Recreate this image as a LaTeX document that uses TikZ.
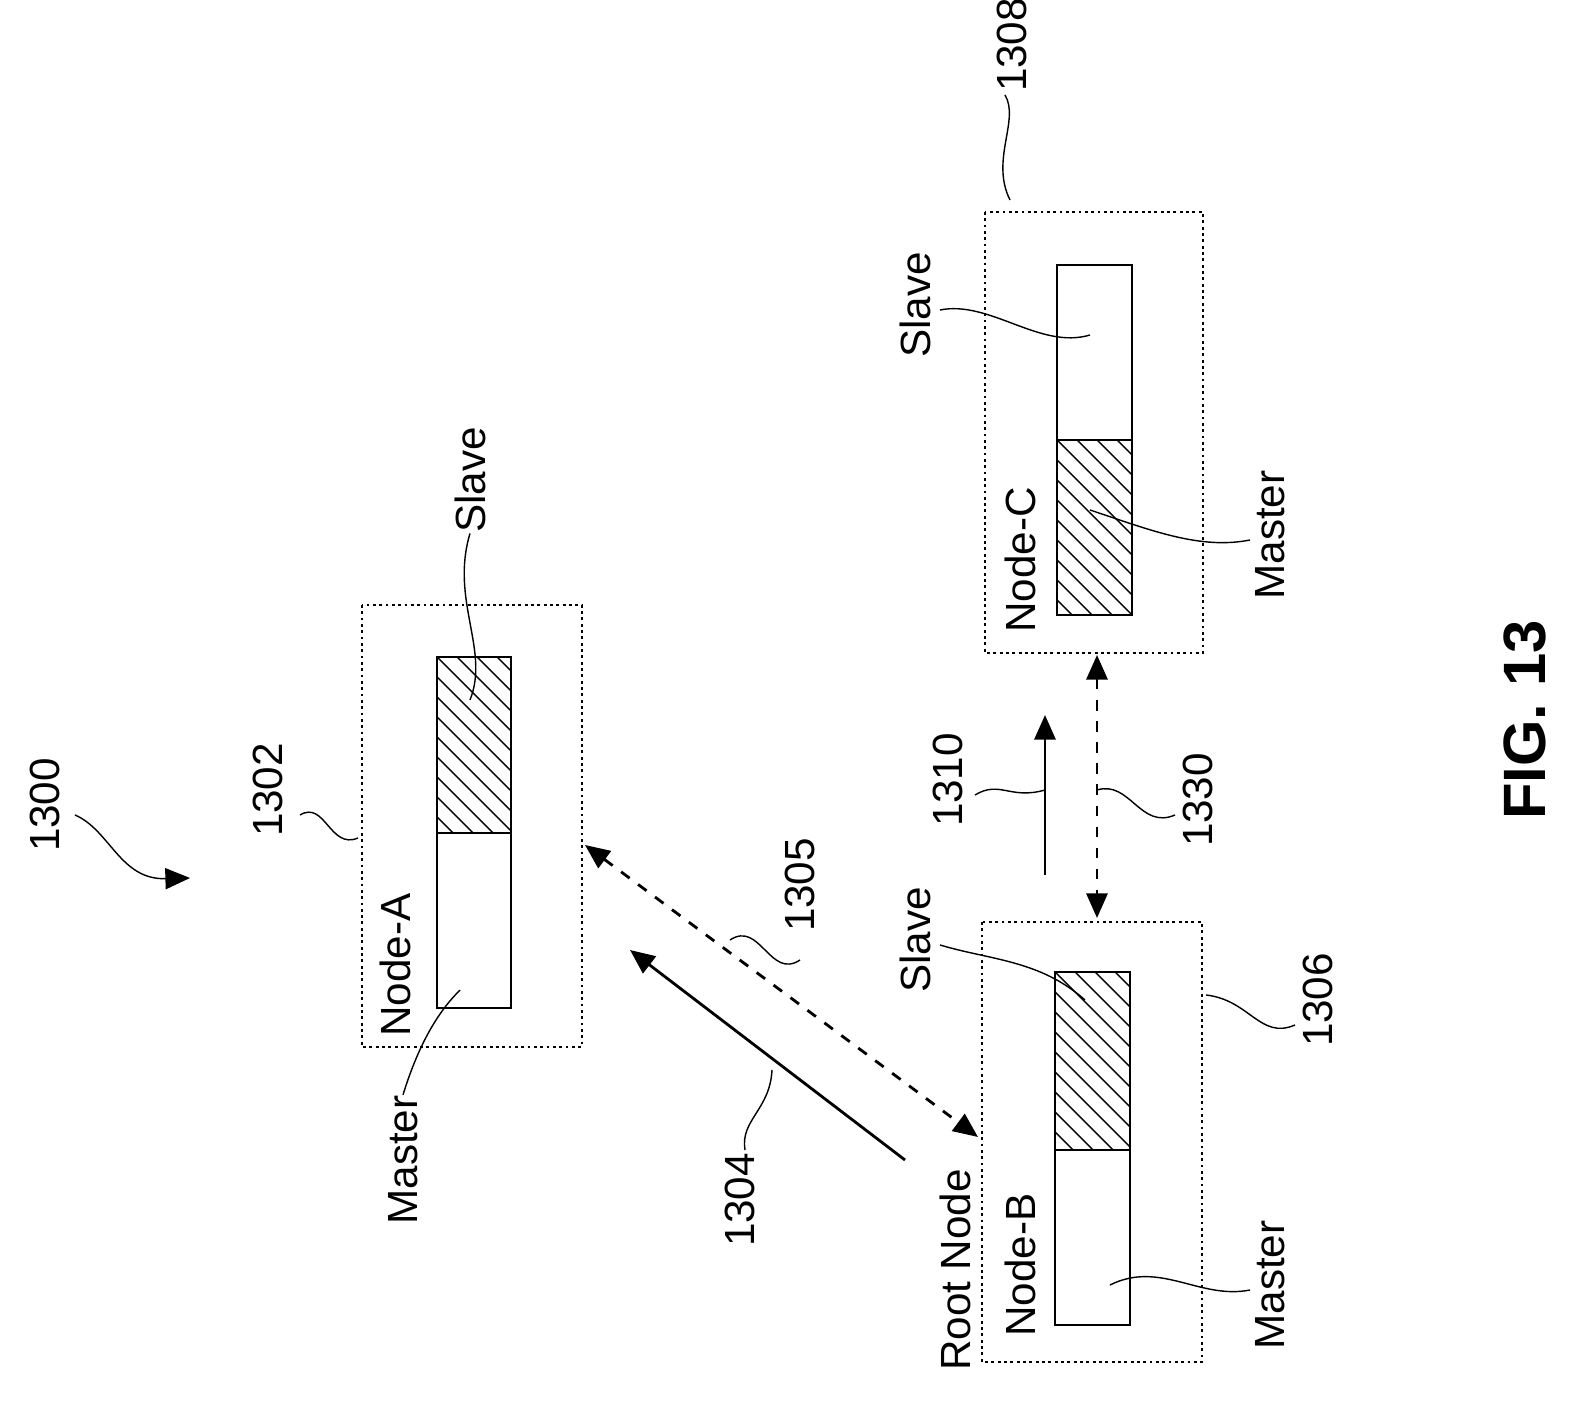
\documentclass[tikz,border=0pt]{standalone}
\usepackage{fontspec}
\setmainfont{Liberation Sans}
\usetikzlibrary{arrows.meta}
\begin{document}
\begin{tikzpicture}[x=0.01cm, y=-0.01cm,
  lbl/.style={rotate=90, font=\fontsize{12}{14}\selectfont, inner sep=0pt},
  frame/.style={densely dotted, thick},
  bar/.style={draw, thick},
  lead/.style={thin},
  tip/.style={-{Triangle[length=7pt,width=6pt]}},
  dtip/.style={{Triangle[length=7pt,width=6pt]}-{Triangle[length=7pt,width=6pt]}, dashed}]

% hatched halves
\newcommand{\hatch}[4]{%
  \begin{scope}
    \clip (#1,#2) rectangle (#3,#4);
    \foreach \k in {-400,-380,...,400}
      \draw[thin] (#1+\k,#2) -- (#1+\k+400,#2+400);
  \end{scope}}

% Node-A
\draw[frame] (362,605) rectangle (582,1047);
\hatch{437}{657}{511}{833}
\draw[bar] (437,657) rectangle (511,1008);
\draw[bar] (437,833) -- (511,833);
\node[lbl] (na) at (395,965) {Node-A};
\node[lbl] (sa) at (470,480) {Slave};
\node[lbl] (ma) at (403,1160) {Master};
\draw[lead] (470,700) .. controls (490,650) and (450,600) .. (sa.west);
\draw[lead] (460,990) .. controls (440,1010) and (420,1040) .. (ma.east);

\node[lbl] (n1302) at (268,790) {1302};
\draw[lead] (300,815) .. controls (325,800) and (330,850) .. (358,838);
\node[lbl] (n1300) at (45,805) {1300};
\draw[tip] (75,815) .. controls (110,830) and (120,880) .. (190,878);

% Node-B
\draw[frame] (982,922) rectangle (1202,1362);
\hatch{1055}{972}{1130}{1150}
\draw[bar] (1055,972) rectangle (1130,1325);
\draw[bar] (1055,1150) -- (1130,1150);
\node[lbl] (nb) at (1020,1265) {Node-B};
\node[lbl] (rb) at (955,1270) {Root Node};
\node[lbl] (sb) at (915,940) {Slave};
\node[lbl] (mb) at (1270,1285) {Master};
\node[lbl] (n1306) at (1318,1000) {1306};
\draw[lead] (1085,1000) .. controls (1040,960) and (990,960) .. (940,945);
\draw[lead] (1110,1285) .. controls (1160,1260) and (1200,1300) .. (1250,1290);
\draw[lead] (1206,995) .. controls (1250,1000) and (1260,1040) .. (1295,1025);

% Node-C
\draw[frame] (985,212) rectangle (1203,653);
\hatch{1057}{440}{1132}{615}
\draw[bar] (1057,265) rectangle (1132,615);
\draw[bar] (1057,440) -- (1132,440);
\node[lbl] (nc) at (1020,560) {Node-C};
\node[lbl] (sc) at (915,305) {Slave};
\node[lbl] (mc) at (1270,535) {Master};
\node[lbl] (n1308) at (1012,45) {1308};
\draw[lead] (1090,335) .. controls (1040,350) and (990,300) .. (940,310);
\draw[lead] (1090,510) .. controls (1150,530) and (1200,550) .. (1250,540);
\draw[lead] (1010,200) .. controls (990,160) and (1020,120) .. (1005,95);

% links
\coordinate (p1) at (905,1160); \coordinate (p2) at (630,950);
\draw[tip, thick] (p1) -- (p2);
\node[lbl] (n1304) at (740,1200) {1304};
\draw[lead] (772,1070) .. controls (770,1110) and (740,1120) .. (745,1150);
\coordinate (q1) at (585,845); \coordinate (q2) at (978,1137);
\draw[dtip, thick] (q1) -- (q2);
\node[lbl] (n1305) at (800,885) {1305};
\draw[lead] (730,940) .. controls (760,920) and (770,980) .. (800,960);
\coordinate (r1) at (1045,875); \coordinate (r2) at (1045,715);
\draw[tip, thick] (r1) -- (r2);
\node[lbl] (n1310) at (948,780) {1310};
\draw[lead] (975,795) .. controls (1000,780) and (1010,800) .. (1045,790);
\coordinate (s1) at (1097,655); \coordinate (s2) at (1097,918);
\draw[dtip, thick] (s1) -- (s2);
\node[lbl] (n1330) at (1198,800) {1330};
\draw[lead] (1097,790) .. controls (1130,780) and (1140,830) .. (1175,815);

\node[lbl, font=\fontsize{17}{20}\selectfont\bfseries] (fig) at (1525,720) {FIG. 13};

\pgfresetboundingbox
\useasboundingbox (0,0) rectangle (1596,1419);
\end{tikzpicture}
\end{document}
